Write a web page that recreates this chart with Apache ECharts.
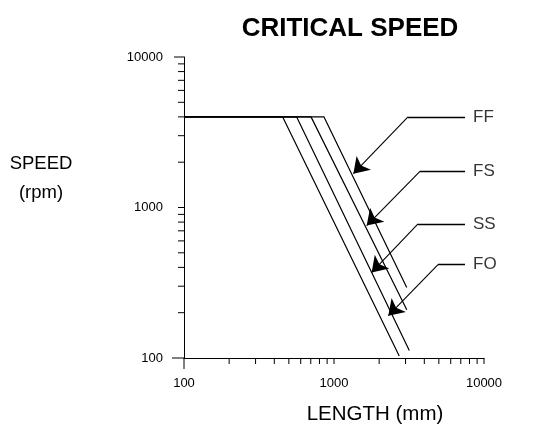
<!DOCTYPE html>
<html><head><meta charset="utf-8">
<script src="https://cdn.jsdelivr.net/npm/echarts@6/dist/echarts.min.js"></script>
<style>html,body{margin:0;padding:0;background:#fff}#c{width:534px;height:445px}</style>
</head><body><div id="c"></div>
<script>
// Data (length in mm, speed in rpm)
const seriesNames = ['FF', 'FS', 'SS', 'FO'];
const lineFF = [[100, 4000], [858, 4000], [3055, 294]];
const lineFS = [[100, 4000], [703, 4000], [3055, 209]];
const lineSS = [[100, 4000], [564, 4000], [3177, 112]];
const lineFO = [[100, 4000], [455, 4000], [2722, 103]];
// Annotation leaders: label anchor -> elbow -> arrow tip (data coords)
const leadFF = [[7470, 4000], [3115, 4000], [1346, 1679]];
const leadFS = [[7470, 1738], [3741, 1738], [1652, 759]];
const leadSS = [[7470, 778], [3631, 778], [1783, 370]];
const leadFO = [[7470, 417], [4936, 417], [2301, 191]];
// Axis ticks
const majorTicks = [100, 1000, 10000];
const minorTicks = [200, 300, 400, 500, 600, 700, 800, 900, 2000, 3000, 4000, 5000, 6000, 7000, 8000, 9000];

const FONT = '"Liberation Sans", Arial, Helvetica, sans-serif';
const chart = echarts.init(document.getElementById('c'), null, {renderer: 'canvas'});
const lines = [lineFF, lineFS, lineSS, lineFO];
const leads = [leadFF, leadFS, leadSS, leadFO];

const tickData = [];
majorTicks.forEach(v => tickData.push(['x', v, 1]));
minorTicks.forEach(v => tickData.push(['x', v, 0]));
majorTicks.forEach(v => tickData.push(['y', v, 1]));
minorTicks.forEach(v => tickData.push(['y', v, 0]));

const plain = v => String(Math.round(v));

const option = {
  animation: false,
  backgroundColor: '#fff',
  grid: {left: 184, top: 57, width: 300, height: 301, containLabel: false},
  xAxis: {
    type: 'log', min: 100, max: 10000, logBase: 10,
    axisLine: {lineStyle: {color: '#000', width: 1}},
    axisTick: {show: false},
    splitLine: {show: false},
    axisLabel: {color: '#000', fontFamily: FONT, fontSize: 13, margin: 19, formatter: plain}
  },
  yAxis: {
    type: 'log', min: 100, max: 10000, logBase: 10,
    axisLine: {lineStyle: {color: '#000', width: 1}},
    axisTick: {show: false},
    splitLine: {show: false},
    axisLabel: {color: '#000', fontFamily: FONT, fontSize: 13, margin: 21, formatter: plain}
  },
  graphic: [
    {type: 'text', x: 350, y: 16, style: {text: 'CRITICAL SPEED', font: 'bold 26px ' + FONT, fill: '#000', textAlign: 'center'}},
    {type: 'text', x: 41, y: 149, style: {text: 'SPEED\n(rpm)', font: '18.5px ' + FONT, fill: '#000', textAlign: 'center', lineHeight: 29}},
    {type: 'text', x: 375, y: 404, style: {text: 'LENGTH (mm)', font: '20.5px ' + FONT, fill: '#000', textAlign: 'center'}}
  ],
  series: [
    ...lines.map((d, i) => ({
      type: 'line', name: seriesNames[i], data: d, symbol: 'none', silent: true,
      lineStyle: {color: '#000', width: 1.2}, z: 3
    })),
    {
      type: 'lines', coordinateSystem: 'cartesian2d', silent: true,
      symbol: ['none', 'none'],
      lineStyle: {color: '#000', width: 1.3, opacity: 1},
      data: leads.map(c => ({coords: [c[0], c[1]]})), z: 4
    },
    {
      type: 'lines', coordinateSystem: 'cartesian2d', silent: true,
      symbol: ['none', 'arrow'], symbolSize: 15,
      lineStyle: {color: '#000', width: 1.1, opacity: 1},
      data: leads.map(c => ({coords: [c[1], c[2]]})), z: 4
    },
    {
      type: 'scatter', symbolSize: 0, silent: true,
      data: leads.map((c, i) => ({value: c[0], name: seriesNames[i]})),
      label: {show: true, position: 'right', distance: 8, formatter: p => p.name, color: '#000', fontFamily: FONT, fontSize: 17}
    },
    {
      type: 'custom', silent: true, clip: false, z: 5,
      data: tickData.map(t => [t[1], t[1]]),
      renderItem: (params, api) => {
        const t = tickData[params.dataIndex];
        const v = t[1];
        if (t[0] === 'x') {
          const p = api.coord([v, 100]);
          const len = (v === 100) ? 11 : 6;
          return {type: 'line', shape: {x1: p[0], y1: p[1], x2: p[0], y2: p[1] + len}, style: {stroke: '#000', lineWidth: 1}};
        } else {
          const p = api.coord([100, v]);
          const len = (v === 100) ? 12 : (v === 10000 ? 10 : 6);
          return {type: 'line', shape: {x1: p[0] - len, y1: p[1], x2: p[0], y2: p[1]}, style: {stroke: '#000', lineWidth: 1}};
        }
      }
    }
  ]
};
chart.setOption(option);
</script></body></html>
